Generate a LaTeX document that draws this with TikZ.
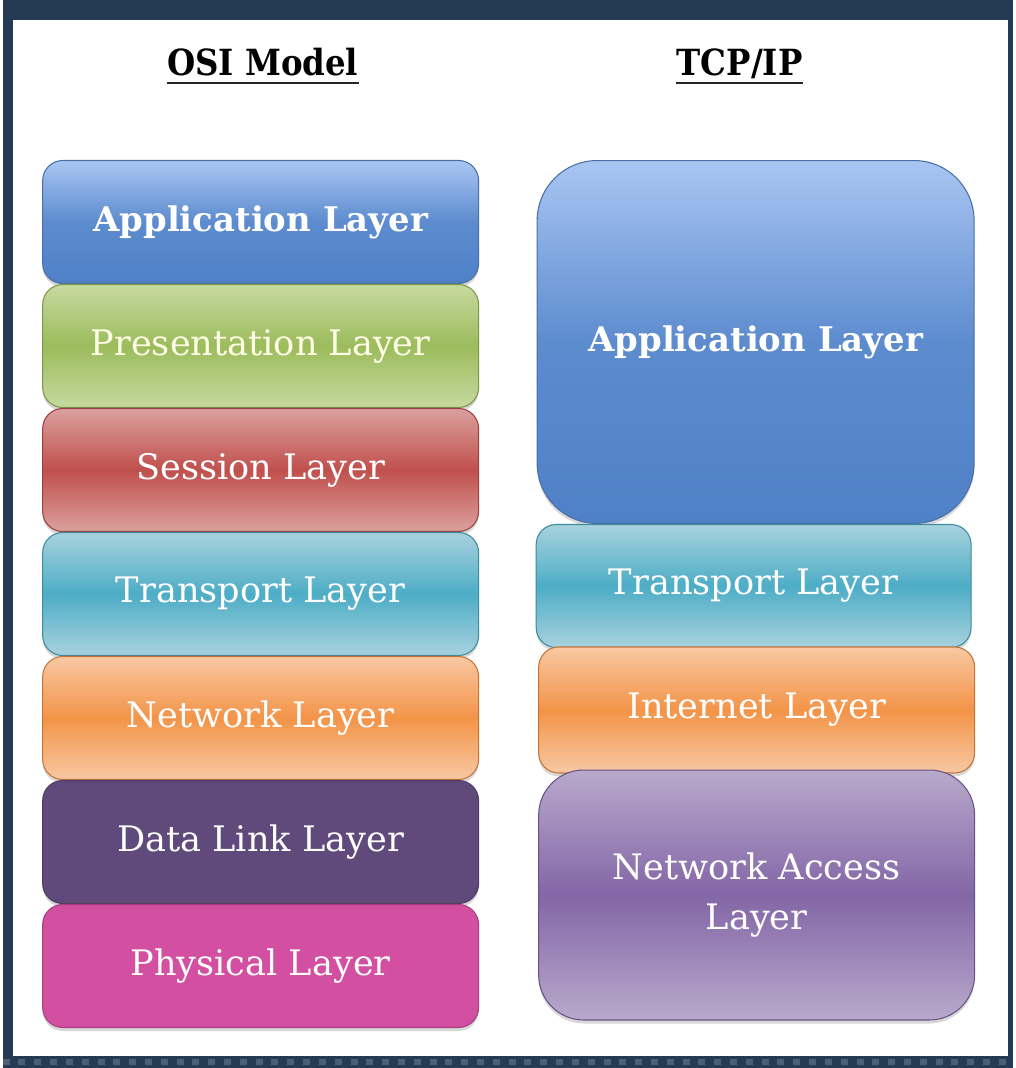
\documentclass[tikz,border=0pt]{standalone}
\usepackage{fontspec}
\setmainfont{DejaVu Serif}
\newfontfamily\headfont{DejaVu Serif Condensed}
\usepackage{xcolor}
\usepackage{tikz}
\usetikzlibrary{positioning, shadows}

\definecolor{framenavy}{HTML}{253A54}
\definecolor{frameDot}{HTML}{4A5F78}
\definecolor{appTop}{HTML}{A9C6F3}
\definecolor{appBot}{HTML}{4F81C8}
\definecolor{presTop}{HTML}{C6DAA0}
\definecolor{presMid}{HTML}{9CBC5C}
\definecolor{sessTop}{HTML}{DBA09E}
\definecolor{sessMid}{HTML}{C0504D}
\definecolor{tranTop}{HTML}{A8D2DE}
\definecolor{tranMid}{HTML}{4DADC6}
\definecolor{netTop}{HTML}{F8C8A2}
\definecolor{netMid}{HTML}{F39448}
\definecolor{linkFill}{HTML}{604A7B}
\definecolor{physFill}{HTML}{D24FA1}
\definecolor{accTop}{HTML}{B8A9CC}
\definecolor{accMid}{HTML}{8366A6}

\begin{document}
\begin{tikzpicture}[
    x=0.02cm, y=-0.02cm,
    layer/.style={rectangle, rounded corners=0.4cm, minimum width=8.72cm, minimum height=2.46cm, align=center, text=white, font=\fontsize{20}{28.5}\selectfont, line width=0.6pt, drop shadow={shadow xshift=0pt, shadow yshift=-2pt, opacity=0.3}},
    band/.style n args={3}{top color=#1, bottom color=#3, middle color=#2, draw=#2!80!black},
    flat/.style={fill=#1, draw=#1!80!black},
    boldtext/.style={font=\bfseries\fontsize{19.3}{25}\selectfont},
    head/.style={font=\headfont\bfseries\fontsize{20.5}{26}\selectfont, inner sep=0pt},
    rule/.style={line width=1.6pt, black!85}
]

% frame and page
\fill[framenavy] (0,0) rectangle (1010,1068);
\fill[white] (10,20) rectangle (1005,1056);
\draw[frameDot, line width=3pt, dash pattern=on 4pt off 5pt] (0,1062) -- (1010,1062);

% headings
\node[head, anchor=base] (osihead) at (260,76) {OSI Model};
\node[head, anchor=base] (tcphead) at (737,76) {TCP/IP};
\draw[rule] ([yshift=-4pt]osihead.base west) -- ([yshift=-4pt]osihead.base east);
\draw[rule] ([yshift=-4pt]tcphead.base west) -- ([yshift=-4pt]tcphead.base east);

% OSI stack
\node[layer, band={appTop}{appBot!85!appTop}{appBot}, boldtext] (osiapp) at (258,222) {Application Layer};
\node[layer, band={presTop}{presMid}{presTop}, text=white!90!yellow] (osipres) at (258,346) {Presentation Layer};
\node[layer, band={sessTop}{sessMid}{sessTop}] (osisess) at (258,470) {Session Layer};
\node[layer, band={tranTop}{tranMid}{tranTop}] (ositran) at (258,594) {Transport Layer};
\node[layer, band={netTop}{netMid}{netTop}] (osinet) at (258,718) {Network Layer};
\node[layer, flat=linkFill] (osilink) at (258,842) {Data Link Layer};
\node[layer, flat=physFill] (osiphys) at (258,966) {Physical Layer};

% TCP/IP stack
\node[layer, band={appTop}{appBot!85!appTop}{appBot}, rounded corners=1.2cm, minimum height=7.26cm, minimum width=8.74cm, boldtext] (tcpapp) at (753,342) {Application Layer};
\node[layer, band={tranTop}{tranMid}{tranTop}, minimum width=8.7cm] (tcptran) at (751,586) {Transport Layer};
\node[layer, band={netTop}{netMid}{netTop}, minimum height=2.52cm] (tcpinet) at (754,710) {Internet Layer};
\node[layer, band={accTop}{accMid}{accTop}, rounded corners=0.9cm, minimum height=5.0cm] (tcpacc) at (754,895) {Network Access\\Layer};

\end{tikzpicture}
\end{document}
